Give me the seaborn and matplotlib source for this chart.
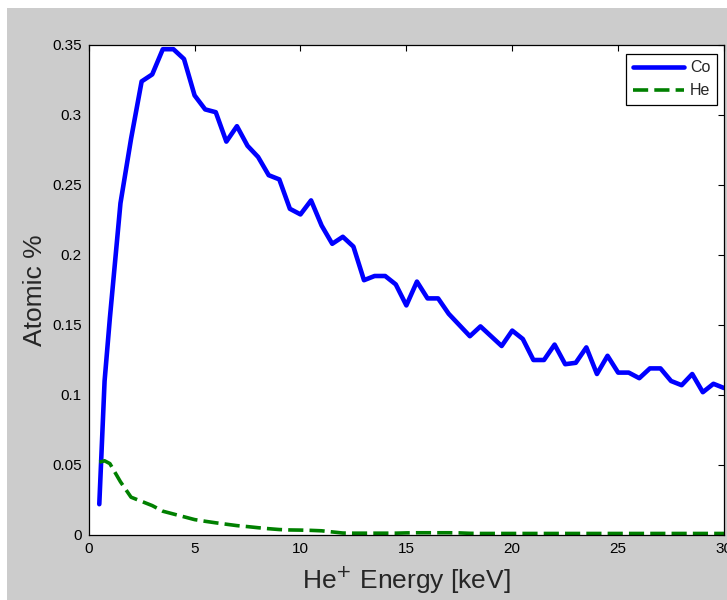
"""
Atomic % of Co and He versus He+ implantation energy.
"""

import matplotlib.pyplot as plt
import matplotlib.patches as mpatches
import pandas as pd
import seaborn as sns

ENERGY_KEV = [
    0.5, 0.75, 1.0, 1.5, 2.0, 2.5, 3.0, 3.5, 4.0, 4.5, 5.0,
    5.5, 6.0, 6.5, 7.0, 7.5, 8.0, 8.5, 9.0, 9.5, 10.0,
    10.5, 11.0, 11.5, 12.0, 12.5, 13.0, 13.5, 14.0, 14.5, 15.0,
    15.5, 16.0, 16.5, 17.0, 17.5, 18.0, 18.5, 19.0, 19.5, 20.0,
    20.5, 21.0, 21.5, 22.0, 22.5, 23.0, 23.5, 24.0, 24.5, 25.0,
    25.5, 26.0, 26.5, 27.0, 27.5, 28.0, 28.5, 29.0, 29.5, 30.0,
]
CO_PCT = [
    0.022, 0.110, 0.155, 0.237, 0.283, 0.324, 0.329, 0.347, 0.347, 0.340, 0.314,
    0.304, 0.302, 0.281, 0.292, 0.278, 0.270, 0.257, 0.254, 0.233, 0.229,
    0.239, 0.221, 0.208, 0.213, 0.206, 0.182, 0.185, 0.185, 0.179, 0.164,
    0.181, 0.169, 0.169, 0.158, 0.150, 0.142, 0.149, 0.142, 0.135, 0.146,
    0.140, 0.125, 0.125, 0.136, 0.122, 0.123, 0.134, 0.115, 0.128, 0.116,
    0.116, 0.112, 0.119, 0.119, 0.110, 0.107, 0.115, 0.102, 0.108, 0.105,
]
HE_PCT = [
    0.052, 0.053, 0.051, 0.038, 0.027, 0.024, 0.021, 0.017, 0.015, 0.013, 0.011,
    0.0098, 0.0087, 0.0077, 0.0067, 0.0060, 0.0052, 0.0045, 0.0039, 0.0036, 0.0035,
    0.0033, 0.0030, 0.0022, 0.0014, 0.0013, 0.0013, 0.0013, 0.0013, 0.0013, 0.0015,
    0.0016, 0.0016, 0.0016, 0.0016, 0.0015, 0.0012, 0.0011, 0.0011, 0.0011, 0.0011,
    0.0011, 0.0011, 0.0011, 0.0011, 0.0011, 0.0011, 0.0011, 0.0011, 0.0011, 0.0011,
    0.0011, 0.0011, 0.0011, 0.0011, 0.0011, 0.0011, 0.0011, 0.0011, 0.0011, 0.0011,
]

X_TICKS = [0, 5, 10, 15, 20, 25, 30]
Y_TICKS = [0, 0.05, 0.1, 0.15, 0.2, 0.25, 0.3, 0.35]
Y_TICK_LABELS = ["0", "0.05", "0.1", "0.15", "0.2", "0.25", "0.3", "0.35"]

GRAY = "#cccccc"


def main() -> None:
    sns.set_style("white")
    plt.rcParams["font.family"] = ["Liberation Sans", "DejaVu Sans"]

    df = pd.DataFrame({"energy": ENERGY_KEV, "Co": CO_PCT, "He": HE_PCT})

    fig = plt.figure(figsize=(7.27, 6.0), dpi=100, facecolor=GRAY)
    # thin white strip along the top and left edge of the screenshot
    fig.patches.append(mpatches.Rectangle((0, 0), 7 / 727, 1, transform=fig.transFigure,
                                          facecolor="white", edgecolor="none", zorder=0))
    fig.patches.append(mpatches.Rectangle((0, 1 - 8 / 600), 1, 8 / 600, transform=fig.transFigure,
                                          facecolor="white", edgecolor="none", zorder=0))

    ax = fig.add_axes([88.7 / 727, 65 / 600, (724 - 88.7) / 727, 490 / 600])
    ax.set_facecolor("white")

    sns.lineplot(data=df, x="energy", y="Co", ax=ax, color="#0000ff", linewidth=3.3,
                 label="Co", sort=False)
    sns.lineplot(data=df, x="energy", y="He", ax=ax, color="#008000", linewidth=2.6,
                 label="He", sort=False, linestyle=(0, (4.2, 1.7)))

    ax.set_xlim(0, 30)
    ax.set_ylim(0, 0.35)
    ax.set_xticks(X_TICKS)
    ax.set_yticks(Y_TICKS)
    ax.set_yticklabels(Y_TICK_LABELS)

    ax.tick_params(direction="in", length=4.5, width=0.8, top=True, right=True,
                   labelsize=11, colors="black", pad=5)
    for spine in ax.spines.values():
        spine.set_visible(True)
        spine.set_color("black")
        spine.set_linewidth(0.9)

    ax.set_xlabel("He$^{+}$ Energy [keV]", fontsize=19, labelpad=6)
    ax.set_ylabel("Atomic %", fontsize=19, labelpad=4)

    leg = ax.legend(loc="upper right", bbox_to_anchor=(0.989, 0.9816), fontsize=11.5,
                    fancybox=False, framealpha=1, edgecolor="black", handlelength=3.2,
                    borderaxespad=0, labelspacing=0.5, handletextpad=0.4)
    leg.get_frame().set_linewidth(0.9)

    fig.savefig("out.png", dpi=100, facecolor=GRAY)
    plt.close(fig)


if __name__ == "__main__":
    main()
